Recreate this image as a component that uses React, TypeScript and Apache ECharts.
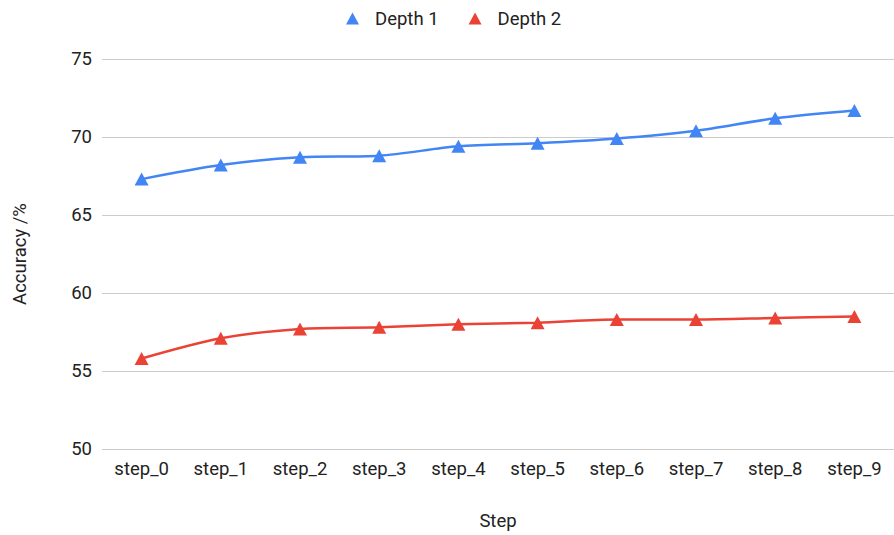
import React, { useEffect, useRef } from "react";
import * as echarts from "echarts";

const categories = ["step_0", "step_1", "step_2", "step_3", "step_4", "step_5", "step_6", "step_7", "step_8", "step_9"];
const depth1 = [67.3, 68.2, 68.7, 68.8, 69.4, 69.6, 69.9, 70.4, 71.2, 71.7];
const depth2 = [55.8, 57.1, 57.7, 57.8, 58.0, 58.1, 58.3, 58.3, 58.4, 58.5];
const seriesNames = ["Depth 1", "Depth 2"];

export default function App() {
  const ref = useRef<HTMLDivElement>(null);
  useEffect(() => {
    if (!ref.current) return;
    const chart = echarts.init(ref.current, null, { renderer: "svg" });
    const font = "Roboto, Arial, sans-serif";
    const fs = 18.5;
    const tc = "#222222";
    chart.setOption({
      animation: false,
      textStyle: { fontFamily: font },
      legend: {
        top: 4,
        left: 341,
        itemGap: 30,
        itemWidth: 13,
        itemHeight: 12,
        formatter: "{a|{name}}",
        textStyle: {
          fontSize: fs,
          color: tc,
          fontFamily: font,
          rich: { a: { fontSize: fs, color: tc, fontFamily: font, padding: [0, 0, 0, 11] } },
        },
        data: seriesNames.map((n) => ({ name: n, icon: "triangle" })),
      },
      grid: { left: 102, right: -8, top: 59, bottom: 81, containLabel: false },
      xAxis: {
        type: "category",
        data: categories,
        boundaryGap: true,
        name: "Step",
        nameLocation: "middle",
        nameGap: 62,
        nameTextStyle: { fontSize: fs, color: tc, fontFamily: font },
        axisLine: { show: false },
        axisTick: { show: false },
        axisLabel: { fontSize: fs, color: tc, margin: 10, interval: 0, fontFamily: font },
      },
      yAxis: {
        type: "value",
        min: 50,
        max: 75,
        interval: 5,
        name: "Accuracy /%",
        nameLocation: "middle",
        nameGap: 73,
        nameRotate: 90,
        nameTextStyle: { fontSize: fs, color: tc, fontFamily: font },
        axisLine: { show: false },
        axisTick: { show: false },
        axisLabel: { fontSize: fs, color: tc, margin: 10, fontFamily: font },
        splitLine: { lineStyle: { color: "#cccccc", width: 1 } },
      },
      series: [
        {
          name: seriesNames[0],
          type: "line",
          data: depth1,
          smooth: 0.3,
          symbol: "triangle",
          symbolSize: [14, 13],
          color: "#4285F4",
          lineStyle: { width: 2.5, color: "#4285F4" },
          itemStyle: { color: "#4285F4" },
        },
        {
          name: seriesNames[1],
          type: "line",
          data: depth2,
          smooth: 0.3,
          symbol: "triangle",
          symbolSize: [14, 13],
          color: "#EA4335",
          lineStyle: { width: 2.5, color: "#EA4335" },
          itemStyle: { color: "#EA4335" },
        },
      ],
    });
    return () => chart.dispose();
  }, []);
  return <div ref={ref} style={{ width: 894, height: 535, position: "absolute", left: 0, top: 0 }} />;
}
